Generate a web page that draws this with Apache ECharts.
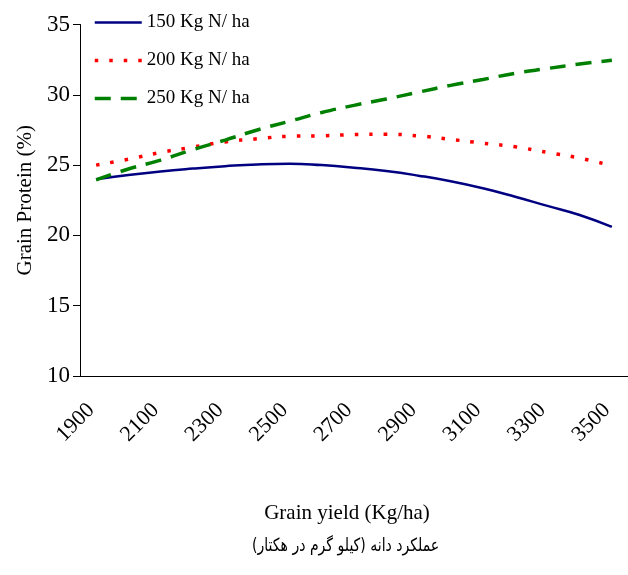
<!DOCTYPE html>
<html><head><meta charset="utf-8">
<script src="https://cdn.jsdelivr.net/npm/echarts@6/dist/echarts.min.js"></script>
<style>html,body{margin:0;padding:0;background:#fff}#c{width:628px;height:575px}</style>
</head><body><div id="c"></div>
<script>
const categories = ['1900','2000','2100','2200','2300','2400','2500','2600','2700','2800','2900','3000','3100','3200','3300','3400','3500'];
const n150 = [24.0, 24.3, 24.55, 24.75, 24.92, 25.05, 25.1, 25.0, 24.82, 24.58, 24.25, 23.85, 23.35, 22.75, 22.1, 21.45, 20.6];
const n200 = [25.0, 25.42, 25.9, 26.28, 26.65, 26.87, 27.05, 27.08, 27.17, 27.19, 27.08, 26.83, 26.56, 26.3, 25.9, 25.5, 24.95];
const n250 = [23.95, 24.72, 25.35, 26.1, 26.78, 27.5, 28.12, 28.74, 29.25, 29.7, 30.19, 30.67, 31.09, 31.53, 31.87, 32.19, 32.45];
const seriesNames = ['150 Kg N/ ha', '200 Kg N/ ha', '250 Kg N/ ha'];
const yMin = 10, yMax = 35, yStep = 5;
const xTitle = 'Grain yield (Kg/ha)';
const xTitleFa = '\u200Fعملکرد دانه (کیلو گرم در هکتار)\u200F';
const yTitle = 'Grain Protein (%)';

const serif = '"Liberation Serif", "Times New Roman", serif';
const chart = echarts.init(document.getElementById('c'), null, {renderer: 'canvas'});
chart.setOption({
  backgroundColor: '#fff',
  animation: false,
  textStyle: {fontFamily: serif, color: '#000'},
  grid: {left: 80, top: 24.5, width: 551, height: 351.5, containLabel: false},
  legend: {
    orient: 'vertical', left: 88, top: 8, itemWidth: 47, itemHeight: 14, itemGap: 19,
    itemStyle: {opacity: 0},
    textStyle: {fontFamily: serif, fontSize: 19, color: '#000'},
    data: [
      {name: seriesNames[0], lineStyle: {width: 2.5}},
      {name: seriesNames[1], lineStyle: {width: 3.5}},
      {name: seriesNames[2], lineStyle: {width: 3.5}}
    ]
  },
  xAxis: {
    type: 'category', data: categories, boundaryGap: true,
    axisLine: {lineStyle: {color: '#000', width: 1}},
    axisTick: {interval: 0, length: 7, lineStyle: {color: '#000'}},
    axisLabel: {interval: 1, rotate: 45, margin: 26, padding: [0, 7, 0, 0], fontFamily: serif, fontSize: 22, color: '#000'},
    splitLine: {show: false},
    name: xTitle, nameLocation: 'middle', nameGap: 127,
    nameTextStyle: {fontFamily: serif, fontSize: 21, color: '#000', padding: [0, 14, 0, 0], verticalAlign: 'top'}
  },
  yAxis: {
    type: 'value', min: yMin, max: yMax, interval: yStep,
    axisLine: {show: true, lineStyle: {color: '#000', width: 1}},
    axisTick: {show: true, length: 7, lineStyle: {color: '#000'}},
    axisLabel: {margin: 10, fontFamily: serif, fontSize: 23, color: '#000'},
    splitLine: {show: false},
    name: yTitle, nameLocation: 'middle', nameGap: 42,
    nameTextStyle: {fontFamily: serif, fontSize: 21, color: '#000'}
  },
  graphic: [{
    type: 'text', x: 252, y: 537, scaleX: 0.78,
    style: {text: xTitleFa, font: '18px "DejaVu Sans", sans-serif', fill: '#000'}
  }],
  series: [
    {name: seriesNames[0], type: 'line', data: n150, smooth: true, symbol: 'none',
     itemStyle: {color: '#000080'}, lineStyle: {color: '#000080', width: 2.5}},
    {name: seriesNames[1], type: 'line', data: n200, smooth: true, symbol: 'none',
     itemStyle: {color: '#ff0000'}, lineStyle: {color: '#ff0000', width: 3.5, type: [3.5, 11], cap: 'butt'}},
    {name: seriesNames[2], type: 'line', data: n250, smooth: true, symbol: 'none',
     itemStyle: {color: '#008000'}, lineStyle: {color: '#008000', width: 3.5, type: [16, 10], cap: 'butt'}}
  ]
});
</script></body></html>
